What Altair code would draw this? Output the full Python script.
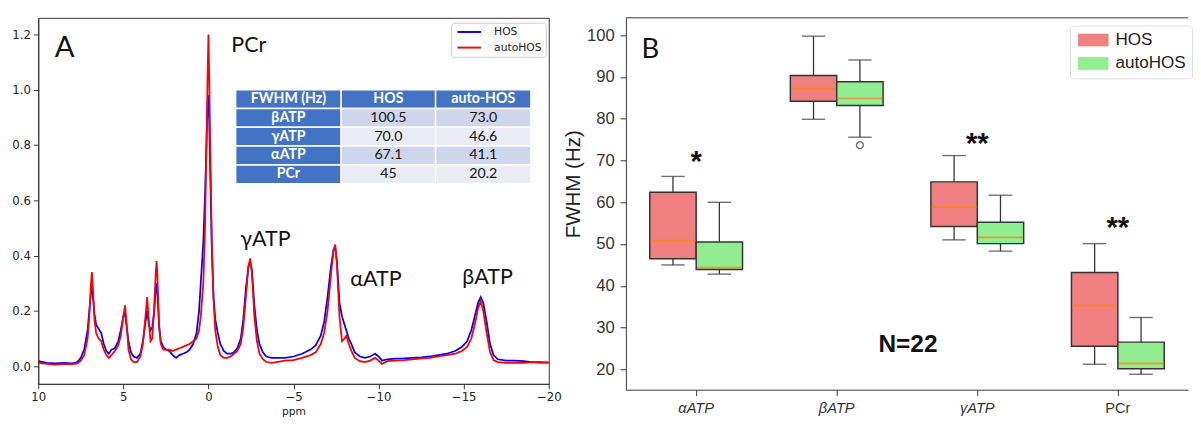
import altair as alt
import pandas as pd

# ---------------- Panel A: 31P spectrum ----------------
ppm = [10.0, 9.5, 9.0, 8.5, 8.0, 7.7, 7.5, 7.3, 7.1, 7.0, 6.9, 6.85, 6.8, 6.7, 6.6, 6.45, 6.3, 6.15,
       6.0, 5.85, 5.7, 5.5, 5.3, 5.15, 5.0, 4.9, 4.8, 4.7, 4.55, 4.4, 4.2, 4.0, 3.85, 3.7, 3.6, 3.5,
       3.4, 3.3, 3.2, 3.1, 3.05, 3.0, 2.9, 2.8, 2.65, 2.5, 2.3, 2.1, 1.9, 1.7, 1.5, 1.3, 1.1, 0.9,
       0.7, 0.55, 0.45, 0.3, 0.2, 0.1, 0.05, 0.0, -0.05, -0.1, -0.2, -0.3, -0.4, -0.55, -0.7, -0.9,
       -1.1, -1.3,
       -1.5, -1.7, -1.9, -2.05, -2.2, -2.35, -2.45, -2.55, -2.7, -2.85, -3.0, -3.2, -3.4, -3.7,
       -4.0, -4.5, -5.0, -5.5, -6.0, -6.3, -6.6, -6.8, -7.0, -7.2, -7.35, -7.45, -7.55, -7.7,
       -7.85, -8.0, -8.1, -8.25, -8.4, -8.6, -8.9, -9.2, -9.5, -9.8, -10.0, -10.2, -10.5, -11.0,
       -11.5, -12.0, -12.5, -13.0, -13.5, -14.0, -14.5, -14.9, -15.2, -15.45, -15.65, -15.85,
       -16.0, -16.15, -16.35, -16.55, -16.75, -17.0, -17.5, -18.0, -18.5, -19.0, -19.5, -20.0]
hos = [0.018, 0.012, 0.010, 0.012, 0.010, 0.015, 0.03, 0.06, 0.13, 0.20, 0.27, 0.29, 0.26, 0.19,
       0.15, 0.135, 0.12, 0.08, 0.055, 0.045, 0.06, 0.065, 0.09, 0.13, 0.18, 0.19, 0.14, 0.09,
       0.05, 0.035, 0.03, 0.045, 0.09, 0.16, 0.20, 0.15, 0.13, 0.14, 0.19, 0.27, 0.30, 0.27, 0.15,
       0.09, 0.07, 0.06, 0.055, 0.04, 0.03, 0.04, 0.045, 0.05, 0.06, 0.08, 0.12, 0.20, 0.30, 0.45,
       0.62, 0.84, 0.95, 0.98, 0.88, 0.72, 0.42, 0.25, 0.17, 0.12, 0.08, 0.055, 0.045, 0.045,
       0.05, 0.065,
       0.10, 0.17, 0.28, 0.36, 0.38, 0.35, 0.22, 0.13, 0.08, 0.05, 0.035, 0.03, 0.03, 0.03, 0.035,
       0.045, 0.06, 0.075, 0.11, 0.16, 0.25, 0.36, 0.42, 0.43, 0.38, 0.23, 0.18, 0.15, 0.13, 0.10,
       0.08, 0.05, 0.035, 0.03, 0.035, 0.045, 0.035, 0.02, 0.025, 0.027, 0.028, 0.03, 0.032, 0.035,
       0.04, 0.045, 0.055, 0.07, 0.09, 0.13, 0.18, 0.23, 0.25, 0.23, 0.16, 0.08, 0.04, 0.025,
       0.02, 0.02, 0.018, 0.015, 0.015, 0.012]
autohos = [0.012, 0.008, 0.006, 0.008, 0.007, 0.010, 0.02, 0.04, 0.10, 0.18, 0.30, 0.34, 0.30,
           0.17, 0.12, 0.10, 0.09, 0.06, 0.04, 0.03, 0.04, 0.055, 0.075, 0.11, 0.18, 0.22, 0.15,
           0.06, 0.025, 0.015, 0.015, 0.035, 0.08, 0.18, 0.25, 0.16, 0.09, 0.10, 0.20, 0.33, 0.38,
           0.33, 0.14, 0.08, 0.06, 0.06, 0.06, 0.055, 0.06, 0.065, 0.07, 0.075, 0.08, 0.09, 0.10,
           0.13, 0.18, 0.30, 0.50, 0.85, 1.05, 1.20, 1.04, 0.82, 0.45, 0.24, 0.13, 0.07, 0.04, 0.03,
           0.03, 0.035,
           0.045, 0.055, 0.08, 0.14, 0.25, 0.36, 0.39, 0.34, 0.18, 0.09, 0.045, 0.025, 0.015, 0.012,
           0.015, 0.02, 0.022, 0.03, 0.04, 0.05, 0.08, 0.12, 0.20, 0.33, 0.42, 0.44, 0.37, 0.18,
           0.09, 0.10, 0.11, 0.08, 0.055, 0.03, 0.018, 0.015, 0.02, 0.03, 0.02, 0.008, 0.018, 0.02,
           0.022, 0.025, 0.028, 0.03, 0.035, 0.04, 0.045, 0.055, 0.07, 0.10, 0.15, 0.21, 0.235, 0.20,
           0.12, 0.05, 0.022, 0.015, 0.012, 0.012, 0.012, 0.015, 0.012, 0.015]

series_names = ["HOS", "autoHOS"]
spec_colors = ["#0000FF", "#FF0000"]

peak_labels = ["PCr", "γATP", "αATP", "βATP"]
peak_ppm = [-2.37, -3.35, -9.84, -16.4]
peak_int = [1.16, 0.46, 0.316, 0.323]

table_header = ["FWHM (Hz)", "HOS", "auto-HOS"]
table_rows = ["βATP", "γATP", "αATP", "PCr"]
table_hos = ["100.5", "70.0", "67.1", "45"]
table_auto = ["73.0", "46.6", "41.1", "20.2"]

# ---------------- Panel B: box plots ----------------
cats = ["αATP", "βATP", "γATP", "PCr"]
groups = ["HOS", "autoHOS"]
box_lo = [45.0, 42.8, 79.9, 75.6, 51.0, 48.3, 21.2, 18.8]
box_q1 = [46.5, 43.9, 84.2, 83.2, 54.2, 50.1, 25.5, 20.1]
box_med = [50.8, 44.3, 87.2, 84.9, 58.9, 51.6, 35.3, 21.4]
box_q3 = [62.4, 50.5, 90.4, 88.9, 64.9, 55.2, 43.2, 26.5]
box_hi = [66.2, 60.0, 99.8, 94.1, 71.2, 61.7, 50.1, 32.4]
outlier_cat = ["βATP"]
outlier_grp = ["autoHOS"]
outlier_val = [73.7]
box_colors = ["#F08080", "#90EE90"]

star_cats = ["αATP", "γATP", "PCr"]
star_text = ["*", "**", "**"]
star_val = [67.4, 71.9, 51.8]

# ---------------- build panel A ----------------
n = len(ppm)
spec_df = pd.DataFrame({
    "ppm": ppm + ppm,
    "I": hos + autohos,
    "series": [series_names[0]] * n + [series_names[1]] * n,
})

LW, LH = 523, 375
xA = alt.Scale(domain=[10, -20], nice=False, zero=False, padding=0)
yA = alt.Scale(domain=[-0.064, 1.26], nice=False, zero=False, padding=0)
axA_x = alt.Axis(values=[10, 5, 0, -5, -10, -15, -20], title="ppm", grid=False,
                 labelFont="DejaVu Sans", labelFontSize=12, labelColor="#222", labelFlush=False,
                 titleFont="DejaVu Sans", titleFontSize=11, titleFontWeight="normal",
                 titleColor="#222", tickColor="#333", domainColor="#333", tickSize=5,
                 labelPadding=3, titlePadding=3)
axA_y = alt.Axis(values=[0, 0.2, 0.4, 0.6, 0.8, 1.0, 1.2], format=".1f", title=None, grid=False,
                 labelFont="DejaVu Sans", labelFontSize=12, labelColor="#222", labelFlush=False,
                 tickColor="#333", domainColor="#333", tickSize=5, labelPadding=3)

lines = alt.Chart(spec_df).mark_line(strokeWidth=1.8, clip=True).encode(
    x=alt.X("ppm:Q", scale=xA, axis=axA_x),
    y=alt.Y("I:Q", scale=yA, axis=axA_y),
    color=alt.Color("series:N", scale=alt.Scale(domain=series_names, range=spec_colors),
                    legend=alt.Legend(orient="none", legendX=423, legendY=5, title=None,
                                      fillColor="white", strokeColor="#ccc", padding=4,
                                      cornerRadius=3, labelFont="DejaVu Sans", labelFontSize=11,
                                      labelColor="#222", symbolType="M-1,0H7", symbolSize=36,
                                      symbolStrokeWidth=2, rowPadding=4, labelOffset=29)),
    order=alt.Order("ppm:Q"),
)

# table cells (layout in data units of the spectrum)
col_edges = [-1.6, -7.8, -13.35, -18.95]
tab_top = 1.0
row_h = 0.068
grid_rows = [table_header] + [[r, h, a] for r, h, a in zip(table_rows, table_hos, table_auto)]
cells = []
for ri, row in enumerate(grid_rows):
    for ci, txt in enumerate(row):
        if ri == 0 or ci == 0:
            kind, fillc = "head", "#4472C4"
        elif ri % 2 == 1:
            kind, fillc = "body", "#CFD5EA"
        else:
            kind, fillc = "body", "#E9EBF5"
        cells.append({
            "txt": txt, "kind": kind, "fillc": fillc,
            "x0": col_edges[ci], "x1": col_edges[ci + 1],
            "xm": (col_edges[ci] + col_edges[ci + 1]) / 2,
            "y0": tab_top - ri * row_h, "y1": tab_top - (ri + 1) * row_h,
            "ym": tab_top - (ri + 0.5) * row_h,
        })
cells_df = pd.DataFrame(cells)

tab_rect = alt.Chart(cells_df).mark_rect(stroke="white", strokeWidth=1.5).encode(
    x=alt.X("x0:Q", scale=xA, axis=axA_x), x2="x1:Q",
    y=alt.Y("y0:Q", scale=yA, axis=axA_y), y2="y1:Q",
    fill=alt.Fill("fillc:N", scale=None),
)
tab_text_head = alt.Chart(cells_df).transform_filter("datum.kind == 'head'").mark_text(
    font="Lato", fontSize=14.5, fontWeight="bold", color="white", baseline="middle").encode(
    x=alt.X("xm:Q", scale=xA, axis=axA_x), y=alt.Y("ym:Q", scale=yA, axis=axA_y), text="txt:N")
tab_text_body = alt.Chart(cells_df).transform_filter("datum.kind == 'body'").mark_text(
    font="Lato", fontSize=14.5, color="#111", baseline="middle").encode(
    x=alt.X("xm:Q", scale=xA, axis=axA_x), y=alt.Y("ym:Q", scale=yA, axis=axA_y), text="txt:N")

peaks_df = pd.DataFrame({"label": peak_labels, "ppm": peak_ppm, "I": peak_int})
peak_text = alt.Chart(peaks_df).mark_text(font="Lato", fontSize=22, color="#111",
                                          baseline="middle").encode(
    x=alt.X("ppm:Q", scale=xA, axis=axA_x), y=alt.Y("I:Q", scale=yA, axis=axA_y), text="label:N")
panelA_df = pd.DataFrame({"label": ["A"], "ppm": [8.45], "I": [1.15]})
panelA_text = alt.Chart(panelA_df).mark_text(font="Lato", fontSize=30, color="#111",
                                             baseline="middle").encode(
    x=alt.X("ppm:Q", scale=xA, axis=axA_x), y=alt.Y("I:Q", scale=yA, axis=axA_y), text="label:N")

left = alt.layer(lines, tab_rect, tab_text_head, tab_text_body, peak_text, panelA_text).properties(
    width=LW, height=LH)

# ---------------- build panel B ----------------
RW, RH = 576, 381
box_df = pd.DataFrame({
    "cat": [c for c in cats for _ in groups],
    "grp": groups * len(cats),
    "lo": box_lo, "q1": box_q1, "med": box_med, "q3": box_q3, "hi": box_hi,
})
xB = alt.Scale(domain=cats, paddingInner=0.34, paddingOuter=0.17)
axB_x = alt.Axis(title=None, labelFont="Liberation Sans", labelFontSize=15, labelColor="#333",
                 labelFontStyle={"condition": {"test": "datum.value === 'PCr'", "value": "normal"},
                                 "value": "italic"},
                 tickColor="#333", domainColor="#333", tickSize=6, labelPadding=5, labelAngle=0)
yB = alt.Scale(domain=[15.1, 104.2], nice=False, zero=False, padding=0)
axB_y = alt.Axis(values=[20, 30, 40, 50, 60, 70, 80, 90, 100], title="FWHM (Hz)", grid=False,
                 labelFont="Liberation Sans", labelFontSize=17, labelColor="#333",
                 titleFont="Liberation Sans", titleFontSize=21, titleFontWeight="normal",
                 titleColor="#222", tickColor="#333", domainColor="#333", tickSize=6,
                 labelPadding=6, titlePadding=3, titleY=170)
xoff = alt.XOffset("grp:N", scale=alt.Scale(domain=groups, paddingInner=0, paddingOuter=0))
X = alt.X("cat:N", scale=xB, axis=axB_x)

whisk = alt.Chart(box_df).mark_rule(color="#333", strokeWidth=1.3).encode(
    x=X, xOffset=xoff, y=alt.Y("lo:Q", scale=yB, axis=axB_y), y2="hi:Q")
cap_lo = alt.Chart(box_df).mark_tick(color="#333", size=24, thickness=1.4, orient="horizontal").encode(
    x=X, xOffset=xoff, y=alt.Y("lo:Q", scale=yB, axis=axB_y))
cap_hi = alt.Chart(box_df).mark_tick(color="#333", size=24, thickness=1.4, orient="horizontal").encode(
    x=X, xOffset=xoff, y=alt.Y("hi:Q", scale=yB, axis=axB_y))
boxes = alt.Chart(box_df).mark_bar(stroke="#333", strokeWidth=1.5, opacity=1).encode(
    x=X, xOffset=xoff, y=alt.Y("q1:Q", scale=yB, axis=axB_y), y2="q3:Q",
    color=alt.Color("grp:N", scale=alt.Scale(domain=groups, range=box_colors),
                    legend=alt.Legend(orient="none", legendX=455, legendY=8, title=None,
                                      fillColor="white", strokeColor="#ddd", padding=6,
                                      cornerRadius=3, labelFont="Liberation Sans",
                                      labelFontSize=17.5, labelColor="#222",
                                      symbolType="M-1,-1H3.8V1H-1Z", symbolSize=169,
                                      symbolStrokeWidth=0, symbolOpacity=1, rowPadding=5,
                                      labelOffset=23)),
)
medians = alt.Chart(box_df).mark_tick(color="#FF7F0E", size=46, thickness=2, orient="horizontal").encode(
    x=X, xOffset=xoff, y=alt.Y("med:Q", scale=yB, axis=axB_y))
out_df = pd.DataFrame({"cat": outlier_cat, "grp": outlier_grp, "val": outlier_val})
outliers = alt.Chart(out_df).mark_point(shape="circle", filled=False, color="#333", size=50,
                                        strokeWidth=1.4).encode(
    x=X, xOffset=xoff, y=alt.Y("val:Q", scale=yB, axis=axB_y))
stars_df = pd.DataFrame({"cat": star_cats, "label": star_text, "val": star_val})
stars = alt.Chart(stars_df).mark_text(font="Liberation Sans", fontSize=30, fontWeight="bold",
                                      color="#111", baseline="alphabetic").encode(
    x=X, y=alt.Y("val:Q", scale=yB, axis=axB_y), text="label:N")
n_df = pd.DataFrame({"cat": ["βATP"], "label": ["N=22"], "val": [26.0]})
ntext = alt.Chart(n_df).mark_text(font="Liberation Sans", fontSize=25, fontWeight="bold",
                                  color="#111", baseline="middle", dx=73).encode(
    x=X, y=alt.Y("val:Q", scale=yB, axis=axB_y), text="label:N")
b_df = pd.DataFrame({"cat": ["αATP"], "label": ["B"], "val": [94.6]})
btext = alt.Chart(b_df).mark_text(font="Lato", fontSize=28, color="#111", baseline="alphabetic",
                                  align="left", dx=-56).encode(
    x=X, y=alt.Y("val:Q", scale=yB, axis=axB_y), text="label:N")
frame_top = alt.Chart(pd.DataFrame({"k": [0]})).mark_rule(color="#333", strokeWidth=1).encode(
    x=alt.value(0), x2=alt.value(RW), y=alt.value(0))

right = alt.layer(whisk, cap_lo, cap_hi, boxes, medians, outliers, stars, ntext, btext,
                  frame_top).properties(width=RW, height=RH,
                                        view=alt.ViewBackground(stroke=None))

chart = alt.hconcat(left, right, spacing=0).resolve_scale(
    color="independent", x="independent", y="independent").resolve_legend(
    color="independent").properties(
    padding={"left": 3, "top": 4, "right": 0, "bottom": 0},
    background="white").configure_view(stroke="#333", strokeWidth=1)

chart.save("out.html", embed_options={"renderer": "svg", "actions": False})
